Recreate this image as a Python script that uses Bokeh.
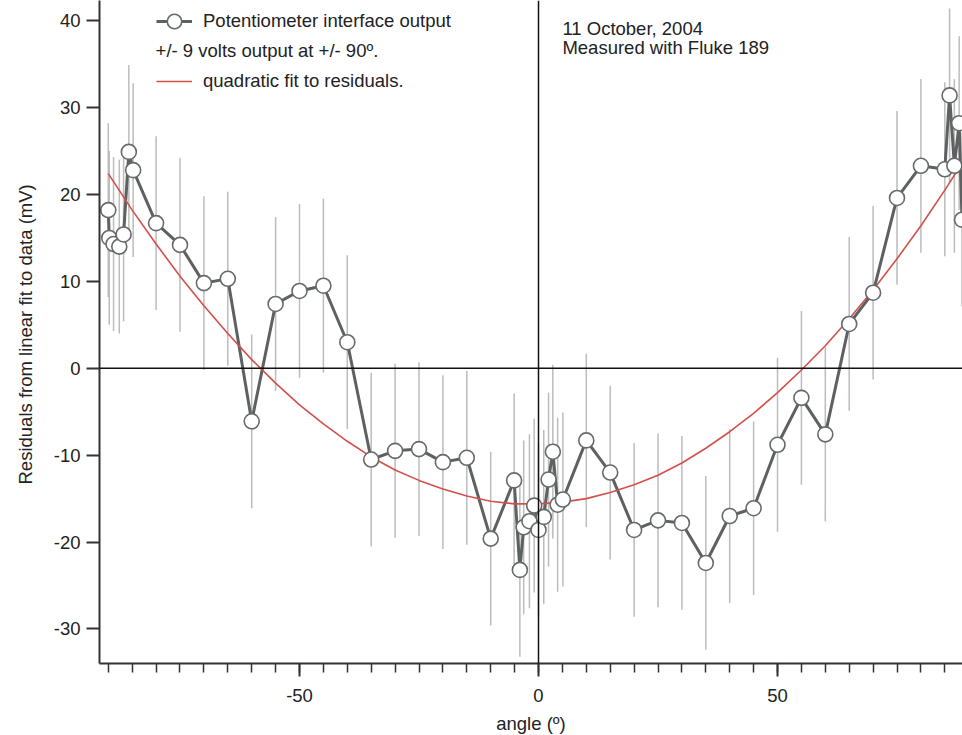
from bokeh.plotting import figure
from bokeh.models import (Range1d, SingleIntervalTicker, Span, Label, Legend,
                          LegendItem, ColumnDataSource, Title, CustomJSTickFormatter)
from bokeh.embed import file_html
from bokeh.resources import INLINE

# ---- data ----
angle = [-90, -89.8, -88.9, -87.7, -86.8, -85.7, -84.8, -80, -75, -70, -65, -60,
         -55, -50, -45, -40, -35, -30, -25, -20, -15, -10, -5.1, -3.9, -3.1, -1.9,
         -0.9, 0, 1.1, 2.1, 3.0, 4.0, 5.1, 10, 15, 20, 25, 30, 35, 40, 45, 50, 55,
         60, 65, 70, 75, 80, 85, 86, 87, 88, 88.6]
residual = [18.2, 15.0, 14.3, 14.0, 15.4, 24.9, 22.8, 16.7, 14.2, 9.8, 10.3, -6.1,
            7.4, 8.9, 9.5, 3.0, -10.5, -9.5, -9.3, -10.8, -10.3, -19.6, -12.9, -23.2,
            -18.3, -17.6, -15.8, -18.6, -17.1, -12.8, -9.6, -15.7, -15.1, -8.3, -12.0,
            -18.6, -17.5, -17.8, -22.4, -17.0, -16.1, -8.8, -3.4, -7.6, 5.1, 8.7,
            19.6, 23.3, 22.9, 31.4, 23.3, 28.2, 17.1]
error = [10, 10, 10, 10, 10, 10, 10, 10, 10, 10, 10, 10, 10, 10, 10, 10, 10, 10,
         10, 10, 10, 10, 10, 10, 10, 10, 10, 10, 10, 10, 10, 10, 10, 10, 10, 10,
         10, 10, 10, 10, 10, 10, 10, 10, 10, 10, 10, 10, 10, 10, 10, 10, 10]

fit_angle = [-90, -85, -80, -75, -70, -65, -60, -55, -50, -45, -40, -35, -30, -25,
             -20, -15, -10, -5, 0, 5, 10, 15, 20, 25, 30, 35, 40, 45, 50, 55, 60,
             65, 70, 75, 80, 85, 90]
fit_residual = [22.4, 18.2, 14.3, 10.6, 7.2, 4.0, 1.0, -1.7, -4.2, -6.4, -8.4,
                -10.2, -11.7, -12.9, -13.9, -14.7, -15.3, -15.6, -15.6, -15.4,
                -15.0, -14.3, -13.4, -12.3, -10.9, -9.2, -7.3, -5.2, -2.8, -0.2,
                2.6, 5.7, 9.0, 12.6, 16.4, 20.5, 24.8]

x_ticks_interval = 50
y_ticks_interval = 10

FONT = "Liberation Sans"
FS = "18.5px"
TEXT = "#222222"

src = ColumnDataSource(dict(
    angle=angle, residual=residual,
    lo=[r - e for r, e in zip(residual, error)],
    hi=[r + e for r, e in zip(residual, error)],
))
fit_src = ColumnDataSource(dict(angle=fit_angle, residual=fit_residual))

p = figure(frame_width=863, frame_height=663,
           min_border_left=99, min_border_right=0, min_border_top=0,
           x_range=Range1d(-91.84, 88.70), y_range=Range1d(-33.97, 42.32),
           output_backend="svg", toolbar_location=None)
p.outline_line_color = None
p.xgrid.grid_line_color = None
p.ygrid.grid_line_color = None
p.background_fill_color = "white"
p.border_fill_color = "white"

fmt = CustomJSTickFormatter(code="return tick.toFixed(0);")

# axes
p.xaxis.ticker = SingleIntervalTicker(interval=x_ticks_interval, num_minor_ticks=10)
p.yaxis.ticker = SingleIntervalTicker(interval=y_ticks_interval, num_minor_ticks=0)
for ax in (p.xaxis[0], p.yaxis[0]):
    ax.formatter = fmt
    ax.axis_line_color = "#333333"
    ax.axis_line_width = 2
    ax.major_tick_line_color = "#333333"
    ax.major_tick_line_width = 2
    ax.minor_tick_line_color = "#333333"
    ax.minor_tick_line_width = 1.5
    ax.major_tick_in = 0
    ax.major_tick_out = 13
    ax.minor_tick_in = 0
    ax.minor_tick_out = 9
    ax.major_label_text_font = FONT
    ax.major_label_text_font_size = FS
    ax.major_label_text_color = TEXT
p.yaxis.minor_tick_line_color = None
p.yaxis.major_label_standoff = 6
p.xaxis.major_label_standoff = 12
p.xaxis.axis_label = "angle (º)"
p.xaxis.axis_label_text_font = FONT
p.xaxis.axis_label_text_font_size = FS
p.xaxis.axis_label_text_font_style = "normal"
p.xaxis.axis_label_text_color = TEXT
p.xaxis.axis_label_standoff = 8

# y axis title (placed like the reference, off-centre)
p.add_layout(Title(text="Residuals from linear fit to data (mV)", align="left",
                   offset=179, vertical_align="top", text_font=FONT,
                   text_font_size=FS, text_font_style="normal", text_color=TEXT,
                   standoff=26), "left")

# zero lines
p.add_layout(Span(location=0, dimension="width", line_color="#111111", line_width=1.5))
p.add_layout(Span(location=0, dimension="height", line_color="#111111", line_width=1.5))

# error bars
p.segment(x0="angle", y0="lo", x1="angle", y1="hi", source=src,
          line_color="#bcbcbc", line_width=1.5)
# data line
data_line = p.line("angle", "residual", source=src, line_color="#5d6161", line_width=3)
# fit curve
fit_line = p.line("angle", "residual", source=fit_src, line_color="#d2504a", line_width=1.6)
# markers
data_pts = p.scatter("angle", "residual", source=src, size=15, marker="circle",
                     fill_color="white", line_color="#666a6a", line_width=1.6)

legend = Legend(items=[
    LegendItem(label="Potentiometer interface output", renderers=[data_line, data_pts]),
    LegendItem(label="quadratic fit to residuals.", renderers=[fit_line]),
], location=(57, 564), padding=0, margin=0, spacing=24,
    border_line_color=None, background_fill_alpha=0,
    label_text_font=FONT, label_text_font_size=FS, label_text_color=TEXT,
    glyph_width=36, glyph_height=36, label_standoff=11, label_height=20)
p.add_layout(legend)

p.add_layout(Label(x=-80.1, y=36.57, text="+/- 9 volts output at +/- 90º.",
                   text_font=FONT, text_font_size=FS, text_color=TEXT,
                   text_baseline="alphabetic"))
p.add_layout(Label(x=5.0, y=39.07, text="11 October, 2004",
                   text_font=FONT, text_font_size=FS, text_color=TEXT,
                   text_baseline="alphabetic"))
p.add_layout(Label(x=5.0, y=36.95, text="Measured with Fluke 189",
                   text_font=FONT, text_font_size=FS, text_color=TEXT,
                   text_baseline="alphabetic"))

open("out.html", "w").write(file_html(p, INLINE))
